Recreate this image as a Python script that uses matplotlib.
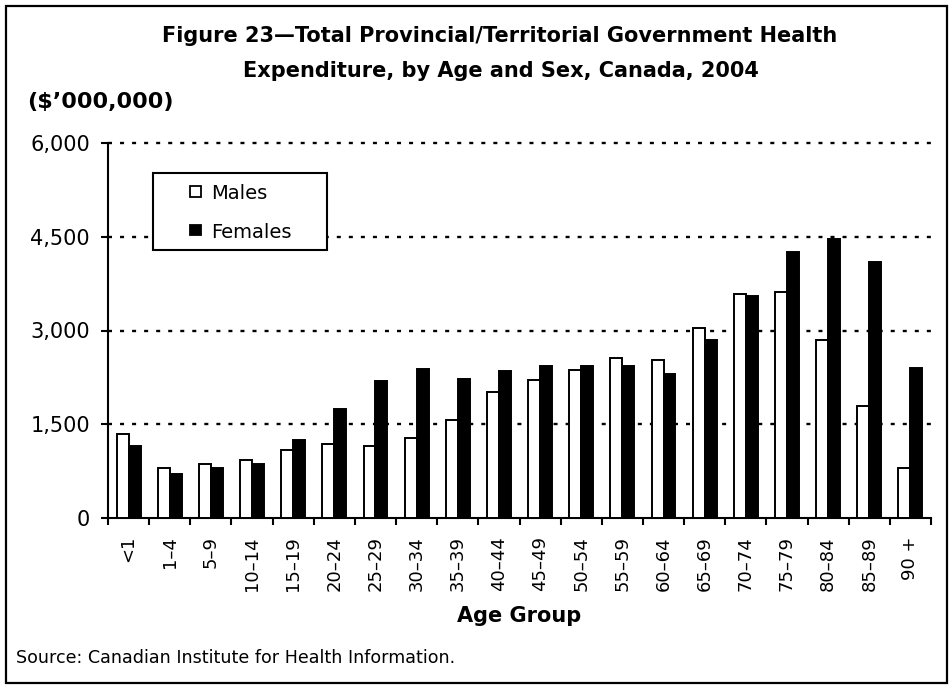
import matplotlib
matplotlib.use("Agg")
import matplotlib.pyplot as plt
import numpy as np
from matplotlib.patches import Rectangle

plt.rcParams['font.family'] = ['DejaVu Sans']

categories = ["<1", "1\u20134", "5\u20139", "10\u201314", "15\u201319", "20\u201324", "25\u201329",
              "30\u201334", "35\u201339", "40\u201344", "45\u201349", "50\u201354", "55\u201359",
              "60\u201364", "65\u201369", "70\u201374", "75\u201379", "80\u201384", "85\u201389", "90 +"]
males = [1347, 796, 866, 930, 1090, 1186, 1149, 1277, 1566, 2020, 2212,
         2372, 2560, 2533, 3041, 3591, 3618, 2848, 1790, 796]
females = [1160, 711, 807, 871, 1256, 1737, 2186, 2378, 2218, 2346, 2437,
           2437, 2437, 2308, 2854, 3559, 4264, 4457, 4104, 2405]
yticks = [0, 1500, 3000, 4500, 6000]
ytick_labels = ["0", "1,500", "3,000", "4,500", "6,000"]
series_names = ["Males", "Females"]

W, H = 952, 688
fig = plt.figure(figsize=(W / 100, H / 100), dpi=100)


def fx(px):
    return px / W


def fy(py):
    return 1 - py / H


ax = fig.add_axes([fx(108), fy(518), (931 - 108) / W, (518 - 143) / H])

x = np.arange(len(categories))
bw = 0.29
ax.bar(x - bw / 2, males, bw, color="white", edgecolor="black", linewidth=1.4, zorder=3)
ax.bar(x + bw / 2, females, bw, color="black", edgecolor="black", linewidth=1.4, zorder=3)

ax.set_xlim(-0.5, len(categories) - 0.5)
ax.set_ylim(0, 6000)
ax.set_yticks(yticks)
ax.set_yticklabels(ytick_labels, fontsize=15)
for yv in yticks[1:]:
    ax.axhline(yv, color="black", lw=1.7, linestyle=(0, (1.7, 3.4)), zorder=1, clip_on=False)

ax.set_xticks(x)
ax.set_xticklabels(categories, rotation=90, fontsize=13, va="top")
ax.set_xticks(np.arange(-0.5, len(categories)), minor=True)
ax.tick_params(axis="x", which="major", length=0, pad=13)
ax.tick_params(axis="x", which="minor", length=5, width=1.5, direction="out")
ax.tick_params(axis="y", length=5, width=1.5, direction="out", pad=8)

for s in ["top", "right"]:
    ax.spines[s].set_visible(False)
for s in ["left", "bottom"]:
    ax.spines[s].set_linewidth(1.5)

# legend box (manual)
fig.patches.append(Rectangle((fx(153), fy(250)), (327 - 153) / W, (250 - 173) / H,
                             transform=fig.transFigure, facecolor="white", edgecolor="black",
                             linewidth=1.5, zorder=5))
fig.patches.append(Rectangle((fx(190), fy(197)), 10.5 / W, 10.5 / H, transform=fig.transFigure,
                             facecolor="white", edgecolor="black", linewidth=1.3, zorder=6))
fig.patches.append(Rectangle((fx(190), fy(235)), 10.5 / W, 10.5 / H, transform=fig.transFigure,
                             facecolor="black", edgecolor="black", linewidth=1.3, zorder=6))
fig.text(fx(211), fy(199), series_names[0], ha="left", va="baseline", fontsize=14, zorder=7)
fig.text(fx(211), fy(238), series_names[1], ha="left", va="baseline", fontsize=14, zorder=7)

fig.text(fx(500), fy(36), "Figure 23\u2014Total Provincial/Territorial Government Health",
         ha="center", va="center", fontsize=15, fontweight="bold")
fig.text(fx(501), fy(71), "Expenditure, by Age and Sex, Canada, 2004",
         ha="center", va="center", fontsize=15, fontweight="bold")
fig.text(fx(27), fy(102), "($\u2019000,000)", ha="left", va="center", fontsize=16, fontweight="bold")
fig.text(fx(519), fy(616), "Age Group", ha="center", va="center", fontsize=15, fontweight="bold")
fig.text(fx(16), fy(663), "Source: Canadian Institute for Health Information.",
         ha="left", va="baseline", fontsize=12.6)

fig.patches.append(Rectangle((fx(6), fy(683)), (947 - 6) / W, (683 - 6) / H, transform=fig.transFigure,
                             fill=False, edgecolor="black", linewidth=1.6))

fig.savefig("out.png", dpi=100)
